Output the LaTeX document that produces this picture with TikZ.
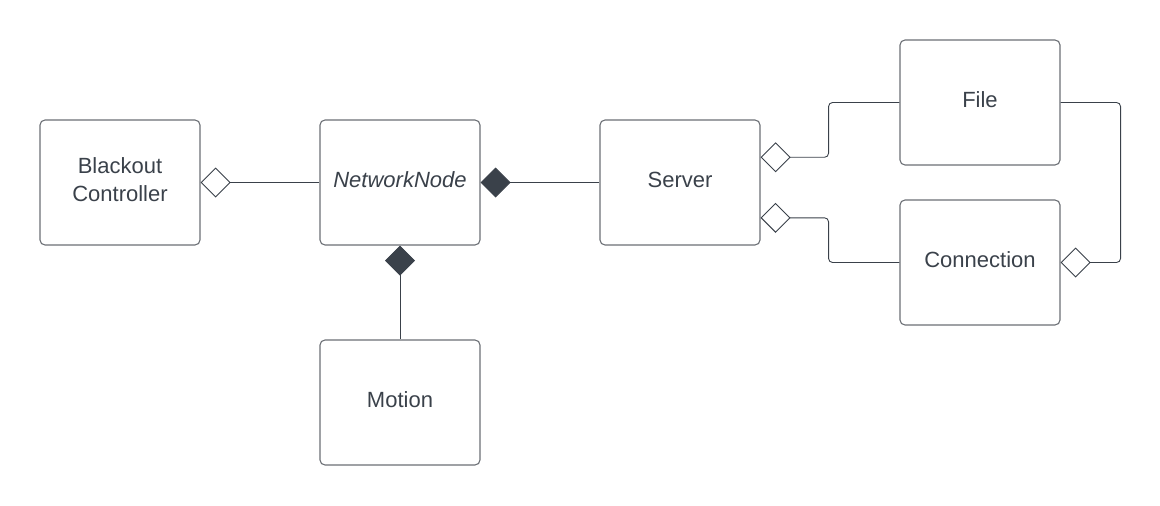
\documentclass[tikz,border=0pt]{standalone}
\usepackage{fontspec}
\setmainfont{Liberation Sans}
\usetikzlibrary{arrows.meta,calc}
\definecolor{inkgray}{HTML}{3A414A}
\definecolor{edgegray}{HTML}{6B6F75}
\begin{document}
\begin{tikzpicture}[x=1pt,y=-1pt,
    classbox/.style={draw=edgegray,line width=1.1pt,rounded corners=5pt,minimum width=160pt,minimum height=125pt,
      align=center,text=inkgray,font=\fontsize{22}{28}\selectfont,inner sep=0pt,text depth=5pt},
    link/.style={draw=inkgray,line width=0.9pt,rounded corners=4pt},
    agg/.style={{Diamond[open,length=30pt,width=30pt,fill=white]}-},
    aggend/.style={-{Diamond[open,length=30pt,width=30pt,fill=white]}},
    comp/.style={{Diamond[length=30pt,width=30pt,fill=inkgray]}-}]
    \useasboundingbox (0,0) rectangle (1160,506);
    \node[classbox] (bc) at (120,182.5) {Blackout\\Controller};
    \node[classbox] (nn) at (400,182.5) {\itshape NetworkNode};
    \node[classbox] (srv) at (680,182.5) {Server};
    \node[classbox] (file) at (980,102.5) {File};
    \node[classbox] (conn) at (980,262.5) {Connection};
    \node[classbox] (mot) at (400,402.5) {Motion};
    \draw[link,agg] (bc.east) -- (nn.west);
    \draw[link,comp] (nn.east) -- (srv.west);
    \draw[link,comp] (nn.south) -- (mot.north);
    \draw[link,agg] ($(srv.north east)!.3!(srv.south east)$) -- ++(68,0) |- (file.west);
    \draw[link,agg] ($(srv.north east)!.78!(srv.south east)$) -- ++(68,0) |- (conn.west);
    \draw[link,aggend] (file.east) -- ++(60,0) |- (conn.east);
\end{tikzpicture}
\end{document}
